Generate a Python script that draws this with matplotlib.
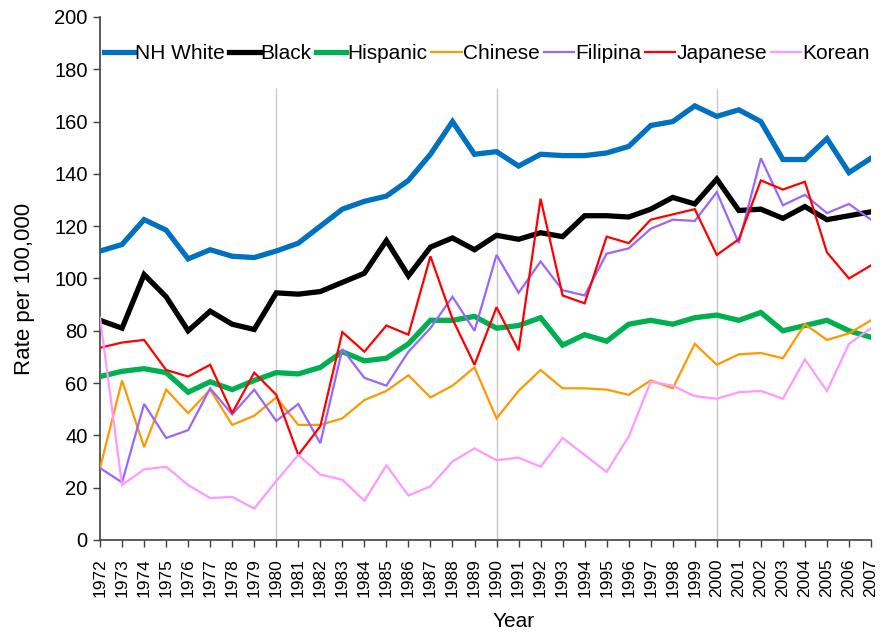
import matplotlib
matplotlib.use("Agg")
import matplotlib.pyplot as plt

plt.rcParams['font.family'] = ['Liberation Sans', 'DejaVu Sans']

years = list(range(1972, 2008))

nh_white = [110.5, 113, 122.5, 118.5, 107.5, 111, 108.5, 108, 110.5, 113.5, 120, 126.5,
            129.5, 131.5, 137.5, 147.5, 160, 147.5, 148.5, 143, 147.5, 147, 147, 148,
            150.5, 158.5, 160, 166, 162, 164.5, 160, 145.5, 145.5, 153.5, 140.5, 146]
black = [84, 81, 101.5, 93, 80, 87.5, 82.5, 80.5, 94.5, 94, 95, 98.5, 102, 114.5, 101,
         112, 115.5, 111, 116.5, 115, 117.5, 116, 124, 124, 123.5, 126.5, 131, 128.5,
         138, 126, 126.5, 123, 127.5, 122.5, 124, 125.5]
hispanic = [62.5, 64.5, 65.5, 64, 56.5, 60.5, 57.5, 61, 64, 63.5, 66, 72, 68.5, 69.5,
            75, 84, 84, 85.5, 81, 82, 85, 74.5, 78.5, 76, 82.5, 84, 82.5, 85, 86, 84,
            87, 80, 82, 84, 80, 77.5]
chinese = [27.5, 61, 35.5, 57.5, 48.5, 57.5, 44, 47.5, 54.5, 44, 44, 46.5, 53.5, 57,
           63, 54.5, 59, 66, 46.5, 57, 65, 58, 58, 57.5, 55.5, 61, 58, 75, 67, 71,
           71.5, 69.5, 82.5, 76.5, 79, 84]
filipina = [27.5, 22, 52, 39, 42, 58, 48, 57.5, 45.5, 52, 37, 73, 62, 59, 72, 81, 93,
            80, 109, 94.5, 106.5, 95.5, 93.5, 109.5, 111.5, 119, 122.5, 122, 133,
            113.5, 146, 128, 132, 125, 128.5, 122.5]
japanese = [73.5, 75.5, 76.5, 65, 62.5, 67, 48.5, 64, 55.5, 32.5, 43.5, 79.5, 72, 82,
            78.5, 108.5, 84.5, 67, 89, 72.5, 130.5, 93.5, 90.5, 116, 113.5, 122.5,
            124.5, 126.5, 109, 115, 137.5, 134, 137, 110, 100, 105]
korean = [85, 21, 27, 28, 21, 16, 16.5, 12, 22.5, 32.5, 25, 23, 15, 28.5, 17, 20.5, 30,
          35, 30.5, 31.5, 28, 39, 32.5, 26, 39.5, 60.5, 59, 55, 54, 56.5, 57, 54, 69,
          57, 75, 81]

series_names = ["NH White", "Black", "Hispanic", "Chinese", "Filipina", "Japanese", "Korean"]
series_values = [nh_white, black, hispanic, chinese, filipina, japanese, korean]
colors = ["#0070C0", "#000000", "#00B050", "#FF9900", "#9966FF", "#FF0000", "#FF99FF"]
widths = [3.8, 3.8, 3.8, 1.6, 1.6, 1.6, 1.6]

fig = plt.figure(figsize=(8.83, 6.39), dpi=100)
ax = fig.add_axes([0.1133, 0.155, 0.8731, 0.8184])

for yr in (1980, 1990, 2000):
    ax.vlines(yr, 0, 173, color="#C8C8C8", linewidth=1.0, zorder=1)

order = [6, 3, 4, 5, 2, 1, 0]
lines = {}
for i in order:
    ln, = ax.plot(years, series_values[i], color=colors[i], linewidth=widths[i],
                  label=series_names[i], zorder=3 + i * 0.01, solid_joinstyle='miter')
    lines[i] = ln

ax.set_xlim(1972, 2007)
ax.set_ylim(0, 200)
ax.set_yticks(range(0, 201, 20))
ax.set_xticks(years)
ax.set_xticklabels([str(y) for y in years], rotation=90, fontsize=12.5)
ax.tick_params(axis='y', labelsize=14.5, direction='out', length=5, width=1,
               color="#404040", pad=4)
ax.tick_params(axis='x', direction='out', length=5, width=1, color="#404040", pad=8)
for s in ("top", "right"):
    ax.spines[s].set_visible(False)
for s in ("left", "bottom"):
    ax.spines[s].set_color("#404040")
    ax.spines[s].set_linewidth(1.2)

ax.set_ylabel("Rate per 100,000", fontsize=16)
ax.yaxis.set_label_coords(-0.084, 0.48)
ax.set_xlabel("Year", fontsize=15)
ax.xaxis.set_label_coords(0.536, -0.138)

handles = [lines[i] for i in range(7)]
ax.legend(handles, series_names, loc="center", bbox_to_anchor=(0.502, 0.93),
          ncol=7, frameon=False, fontsize=15, handlelength=1.45, handletextpad=0.05,
          columnspacing=0.2, borderaxespad=0.0, borderpad=0.0)

fig.savefig("out.png", dpi=100)
